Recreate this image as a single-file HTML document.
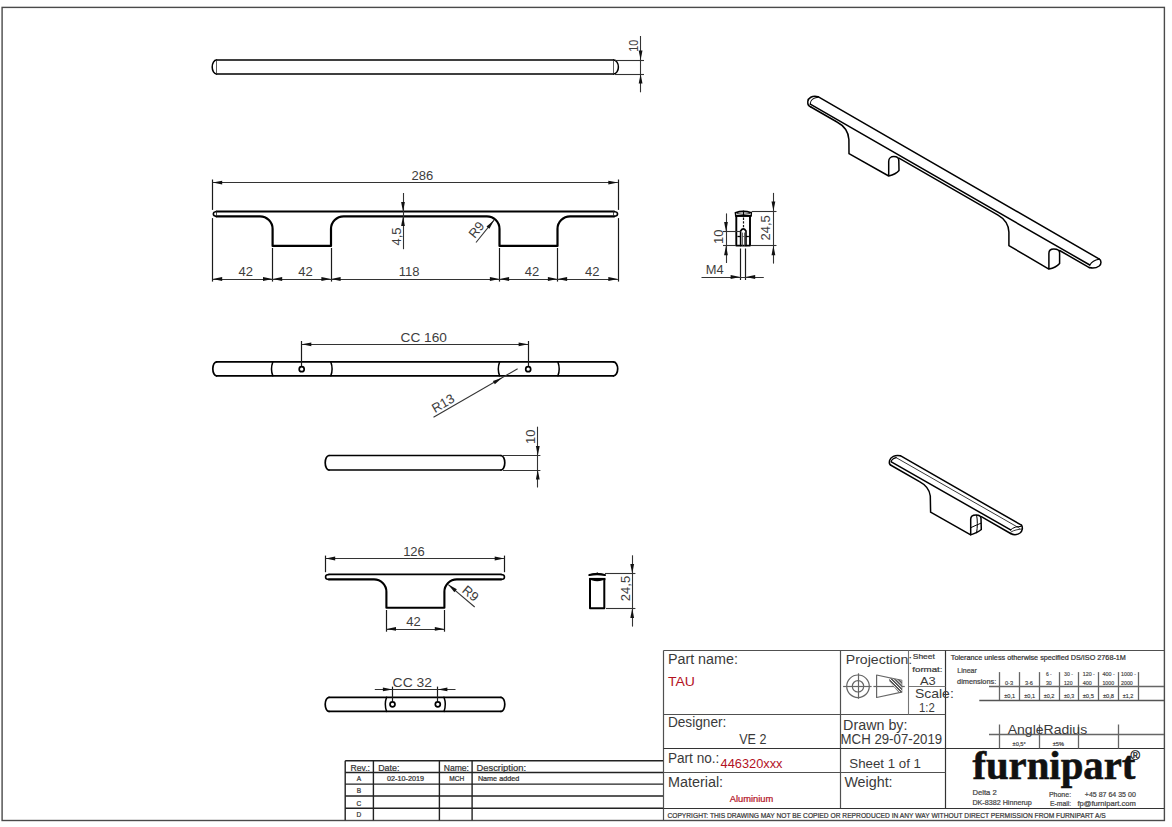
<!DOCTYPE html>
<html><head><meta charset="utf-8"><title>TAU drawing</title>
<style>
html,body{margin:0;padding:0;background:#fff;width:1172px;height:827px;overflow:hidden;}
svg{display:block;}

</style></head>
<body>
<svg width="1172" height="827" viewBox="0 0 1172 827">
<rect width="1172" height="827" fill="#fff"/>
<rect x="2.1" y="7.4" width="1162.3" height="813.1" fill="none" stroke="#4a4a4a" stroke-width="1.4"/>
<path d="M216.5,60 L613.6,60 M216.5,74 L613.6,74" stroke="#000" stroke-width="1.6" fill="none" stroke-linejoin="round" stroke-linecap="round" />
<path d="M216.5,60 A4.3,7 0 0 0 216.5,74" stroke="#000" stroke-width="1.5" fill="none" stroke-linejoin="round" stroke-linecap="round" />
<path d="M613.6,60 A4.8,7 0 0 1 613.6,74" stroke="#000" stroke-width="1.5" fill="none" stroke-linejoin="round" stroke-linecap="round" />
<line x1="216.5" y1="60" x2="216.5" y2="74" stroke="#333" stroke-width="0.8" />
<line x1="613.5" y1="60" x2="613.5" y2="74" stroke="#333" stroke-width="0.8" />
<line x1="615" y1="60.5" x2="644" y2="60.5" stroke="#333" stroke-width="1.1" />
<line x1="615" y1="74.5" x2="644" y2="74.5" stroke="#333" stroke-width="1.1" />
<line x1="640.5" y1="36" x2="640.5" y2="92.3" stroke="#333" stroke-width="1.1" />
<path d="M640.60,60.00 L638.70,50.40 L642.50,50.40 Z" fill="#111"/>
<path d="M640.60,74.00 L642.50,83.60 L638.70,83.60 Z" fill="#111"/>
<text transform="translate(638,45.8) rotate(-90)" font-family="Liberation Sans" font-size="13" font-weight="normal" fill="#3d3d3d" text-anchor="middle" textLength="12" lengthAdjust="spacingAndGlyphs" >10</text>
<line x1="212.5" y1="179.5" x2="212.5" y2="209.9" stroke="#1a1a1a" stroke-width="1.2" />
<line x1="212.5" y1="218.1" x2="212.5" y2="281.6" stroke="#1a1a1a" stroke-width="1.2" />
<line x1="618.5" y1="179.5" x2="618.5" y2="209.9" stroke="#1a1a1a" stroke-width="1.2" />
<line x1="618.5" y1="218.1" x2="618.5" y2="281.6" stroke="#1a1a1a" stroke-width="1.2" />
<line x1="212.6" y1="182.5" x2="617.9" y2="182.5" stroke="#333" stroke-width="1.1" />
<path d="M212.60,182.60 L222.20,180.70 L222.20,184.50 Z" fill="#111"/>
<path d="M617.90,182.60 L608.30,184.50 L608.30,180.70 Z" fill="#111"/>
<text x="422.3" y="180.3" font-family="Liberation Sans" font-size="13" font-weight="normal" fill="#3d3d3d" text-anchor="middle" >286</text>
<path d="M216.5,211.5 L614,211.5" stroke="#000" stroke-width="1.8" fill="none" stroke-linejoin="round" stroke-linecap="round" />
<path d="M216.5,211.5 A4,2.5 0 0 0 216.5,216.4" stroke="#000" stroke-width="1.5" fill="none" stroke-linejoin="round" stroke-linecap="round" />
<path d="M614,211.5 A4.5,2.5 0 0 1 614,216.4" stroke="#000" stroke-width="1.5" fill="none" stroke-linejoin="round" stroke-linecap="round" />
<path d="M216.5,216.4 L260,216.4 A12.6,12.6 0 0 1 272.6,229 L272.6,245.9 L331,245.9 L331,229 A12.6,12.6 0 0 1 343.6,216.4 L486.9,216.4 A12.6,12.6 0 0 1 499.5,229 L499.5,245.9 L557.5,245.9 L557.5,229 A12.6,12.6 0 0 1 570.1,216.4 L614,216.4" stroke="#000" stroke-width="2.2" fill="none" stroke-linejoin="round" stroke-linecap="round" />
<line x1="216.5" y1="211" x2="216.5" y2="215.5" stroke="#222" stroke-width="0.8" />
<line x1="613.5" y1="211" x2="613.5" y2="215.5" stroke="#222" stroke-width="0.8" />
<line x1="272.5" y1="248" x2="272.5" y2="281.6" stroke="#1a1a1a" stroke-width="1.2" />
<line x1="331.5" y1="248" x2="331.5" y2="281.6" stroke="#1a1a1a" stroke-width="1.2" />
<line x1="499.5" y1="248" x2="499.5" y2="281.6" stroke="#1a1a1a" stroke-width="1.2" />
<line x1="557.5" y1="248" x2="557.5" y2="281.6" stroke="#1a1a1a" stroke-width="1.2" />
<line x1="212.6" y1="279.5" x2="617.9" y2="279.5" stroke="#333" stroke-width="1.1" />
<path d="M212.60,279.00 L222.20,277.10 L222.20,280.90 Z" fill="#111"/>
<path d="M272.60,279.00 L263.00,280.90 L263.00,277.10 Z" fill="#111"/>
<path d="M272.60,279.00 L282.20,277.10 L282.20,280.90 Z" fill="#111"/>
<path d="M331.00,279.00 L321.40,280.90 L321.40,277.10 Z" fill="#111"/>
<path d="M331.00,279.00 L340.60,277.10 L340.60,280.90 Z" fill="#111"/>
<path d="M499.50,279.00 L489.90,280.90 L489.90,277.10 Z" fill="#111"/>
<path d="M499.50,279.00 L509.10,277.10 L509.10,280.90 Z" fill="#111"/>
<path d="M557.50,279.00 L547.90,280.90 L547.90,277.10 Z" fill="#111"/>
<path d="M557.50,279.00 L567.10,277.10 L567.10,280.90 Z" fill="#111"/>
<path d="M617.90,279.00 L608.30,280.90 L608.30,277.10 Z" fill="#111"/>
<text x="245.8" y="275.6" font-family="Liberation Sans" font-size="13" font-weight="normal" fill="#3d3d3d" text-anchor="middle" >42</text>
<text x="305.6" y="275.6" font-family="Liberation Sans" font-size="13" font-weight="normal" fill="#3d3d3d" text-anchor="middle" >42</text>
<text x="409.2" y="275.6" font-family="Liberation Sans" font-size="13" font-weight="normal" fill="#3d3d3d" text-anchor="middle" >118</text>
<text x="532" y="275.6" font-family="Liberation Sans" font-size="13" font-weight="normal" fill="#3d3d3d" text-anchor="middle" >42</text>
<text x="592.2" y="275.6" font-family="Liberation Sans" font-size="13" font-weight="normal" fill="#3d3d3d" text-anchor="middle" >42</text>
<line x1="403.5" y1="193" x2="403.5" y2="249.2" stroke="#333" stroke-width="1.1" />
<path d="M403.00,211.50 L401.10,201.90 L404.90,201.90 Z" fill="#111"/>
<path d="M403.00,216.40 L404.90,226.00 L401.10,226.00 Z" fill="#111"/>
<text transform="translate(401,236.5) rotate(-90)" font-family="Liberation Sans" font-size="13" font-weight="normal" fill="#3d3d3d" text-anchor="middle" >4,5</text>
<line x1="476" y1="242.5" x2="494" y2="220.2" stroke="#333" stroke-width="1.1" />
<path d="M494.00,220.20 L489.45,228.86 L486.49,226.48 Z" fill="#111"/>
<text transform="translate(479.9,232.5) rotate(-51)" font-family="Liberation Sans" font-size="13" font-weight="normal" fill="#3d3d3d" text-anchor="middle" >R9</text>
<path d="M216.5,361.9 L613.5,361.9 M216.5,375.8 L613.5,375.8" stroke="#000" stroke-width="1.7" fill="none" stroke-linejoin="round" stroke-linecap="round" />
<path d="M216.5,361.9 A3.7,6.95 0 0 0 216.5,375.8" stroke="#000" stroke-width="1.7" fill="none" stroke-linejoin="round" stroke-linecap="round" />
<path d="M613.5,361.9 A4.2,6.95 0 0 1 613.5,375.8" stroke="#000" stroke-width="1.7" fill="none" stroke-linejoin="round" stroke-linecap="round" />
<path d="M272.8,361.9 Q270.2,368.85 272.8,375.8" stroke="#000" stroke-width="1.5" fill="none" stroke-linejoin="round" stroke-linecap="round" />
<path d="M330.8,361.9 Q333.40000000000003,368.85 330.8,375.8" stroke="#000" stroke-width="1.5" fill="none" stroke-linejoin="round" stroke-linecap="round" />
<path d="M499.6,361.9 Q497.0,368.85 499.6,375.8" stroke="#000" stroke-width="1.5" fill="none" stroke-linejoin="round" stroke-linecap="round" />
<path d="M557.9,361.9 Q560.5,368.85 557.9,375.8" stroke="#000" stroke-width="1.5" fill="none" stroke-linejoin="round" stroke-linecap="round" />
<circle cx="301.7" cy="369.2" r="2.5" fill="none" stroke="#000" stroke-width="1.7"/>
<line x1="301.5" y1="341" x2="301.5" y2="366" stroke="#1a1a1a" stroke-width="1.2" />
<circle cx="528.2" cy="369.2" r="2.5" fill="none" stroke="#000" stroke-width="1.7"/>
<line x1="528.5" y1="341" x2="528.5" y2="366" stroke="#1a1a1a" stroke-width="1.2" />
<line x1="301.7" y1="344.5" x2="528.2" y2="344.5" stroke="#333" stroke-width="1.1" />
<path d="M301.70,344.30 L311.30,342.40 L311.30,346.20 Z" fill="#111"/>
<path d="M528.20,344.30 L518.60,346.20 L518.60,342.40 Z" fill="#111"/>
<text x="400.6" y="341.9" font-family="Liberation Sans" font-size="13" font-weight="normal" fill="#3d3d3d" text-anchor="start" textLength="46.3" lengthAdjust="spacingAndGlyphs" >CC 160</text>
<line x1="433.5" y1="417.2" x2="517.6" y2="368.8" stroke="#333" stroke-width="1.1" />
<path d="M502.20,377.80 L494.83,384.24 L492.93,380.94 Z" fill="#111"/>
<text transform="translate(445.3,407.2) rotate(-29.9)" font-family="Liberation Sans" font-size="13" font-weight="normal" fill="#3d3d3d" text-anchor="middle" >R13</text>
<path d="M329,455.5 L501,455.5 M329,470 L501,470" stroke="#000" stroke-width="1.7" fill="none" stroke-linejoin="round" stroke-linecap="round" />
<path d="M329,455.5 A3.8,7.25 0 0 0 329,470" stroke="#000" stroke-width="1.7" fill="none" stroke-linejoin="round" stroke-linecap="round" />
<path d="M501,455.5 A3.8,7.25 0 0 1 501,470" stroke="#000" stroke-width="1.7" fill="none" stroke-linejoin="round" stroke-linecap="round" />
<line x1="503" y1="455.5" x2="540.4" y2="455.5" stroke="#333" stroke-width="1.1" />
<line x1="503" y1="470.5" x2="540.4" y2="470.5" stroke="#333" stroke-width="1.1" />
<line x1="537.5" y1="426.7" x2="537.5" y2="487.5" stroke="#333" stroke-width="1.1" />
<path d="M537.80,455.50 L535.90,445.90 L539.70,445.90 Z" fill="#111"/>
<path d="M537.80,470.00 L539.70,479.60 L535.90,479.60 Z" fill="#111"/>
<text transform="translate(535,436.8) rotate(-90)" font-family="Liberation Sans" font-size="13" font-weight="normal" fill="#3d3d3d" text-anchor="middle" >10</text>
<line x1="325.5" y1="555.6" x2="325.5" y2="572.2" stroke="#1a1a1a" stroke-width="1.2" />
<line x1="504.5" y1="555.6" x2="504.5" y2="572.2" stroke="#1a1a1a" stroke-width="1.2" />
<line x1="325.6" y1="558.5" x2="504.3" y2="558.5" stroke="#333" stroke-width="1.1" />
<path d="M325.60,558.50 L335.20,556.60 L335.20,560.40 Z" fill="#111"/>
<path d="M504.30,558.50 L494.70,560.40 L494.70,556.60 Z" fill="#111"/>
<text x="414" y="555.6" font-family="Liberation Sans" font-size="13" font-weight="normal" fill="#3d3d3d" text-anchor="middle" >126</text>
<path d="M329,574.4 L501,574.4" stroke="#000" stroke-width="1.8" fill="none" stroke-linejoin="round" stroke-linecap="round" />
<path d="M329,574.4 A3.5,2.5 0 0 0 329,579.4" stroke="#000" stroke-width="1.5" fill="none" stroke-linejoin="round" stroke-linecap="round" />
<path d="M501,574.4 A3.5,2.5 0 0 1 501,579.4" stroke="#000" stroke-width="1.5" fill="none" stroke-linejoin="round" stroke-linecap="round" />
<path d="M329,579.4 L374,579.4 A12.4,12.4 0 0 1 386.4,591.8 L386.4,607.8 L444.4,607.8 L444.4,591.8 A12.4,12.4 0 0 1 456.8,579.4 L501,579.4" stroke="#000" stroke-width="2.1" fill="none" stroke-linejoin="round" stroke-linecap="round" />
<line x1="386.5" y1="610" x2="386.5" y2="631.7" stroke="#1a1a1a" stroke-width="1.2" />
<line x1="444.5" y1="610" x2="444.5" y2="631.7" stroke="#1a1a1a" stroke-width="1.2" />
<line x1="386.4" y1="629.5" x2="444.4" y2="629.5" stroke="#333" stroke-width="1.1" />
<path d="M386.40,628.90 L396.00,627.00 L396.00,630.80 Z" fill="#111"/>
<path d="M444.40,628.90 L434.80,630.80 L434.80,627.00 Z" fill="#111"/>
<text x="413.5" y="625.7" font-family="Liberation Sans" font-size="13" font-weight="normal" fill="#3d3d3d" text-anchor="middle" >42</text>
<line x1="474.7" y1="607" x2="448.3" y2="584.6" stroke="#333" stroke-width="1.1" />
<path d="M448.30,584.60 L456.85,589.36 L454.39,592.26 Z" fill="#111"/>
<text transform="translate(467.6,596.9) rotate(40.3)" font-family="Liberation Sans" font-size="13" font-weight="normal" fill="#3d3d3d" text-anchor="middle" >R9</text>
<path d="M329,697.3 L501,697.3 M329,711.4 L501,711.4" stroke="#000" stroke-width="1.7" fill="none" stroke-linejoin="round" stroke-linecap="round" />
<path d="M329,697.3 A3.8,7.05 0 0 0 329,711.4" stroke="#000" stroke-width="1.7" fill="none" stroke-linejoin="round" stroke-linecap="round" />
<path d="M501,697.3 A3.8,7.05 0 0 1 501,711.4" stroke="#000" stroke-width="1.7" fill="none" stroke-linejoin="round" stroke-linecap="round" />
<path d="M386.6,697.3 Q384,704.3499999999999 386.6,711.4" stroke="#000" stroke-width="1.5" fill="none" stroke-linejoin="round" stroke-linecap="round" />
<path d="M444,697.3 Q446.6,704.3499999999999 444,711.4" stroke="#000" stroke-width="1.5" fill="none" stroke-linejoin="round" stroke-linecap="round" />
<circle cx="392.5" cy="704.3" r="2.5" fill="none" stroke="#000" stroke-width="1.7"/>
<line x1="392.5" y1="686.6" x2="392.5" y2="701" stroke="#1a1a1a" stroke-width="1.2" />
<circle cx="437.8" cy="704.3" r="2.5" fill="none" stroke="#000" stroke-width="1.7"/>
<line x1="437.5" y1="686.6" x2="437.5" y2="701" stroke="#1a1a1a" stroke-width="1.2" />
<line x1="374.8" y1="689.5" x2="455.5" y2="689.5" stroke="#333" stroke-width="1.1" />
<path d="M392.50,689.40 L382.90,691.30 L382.90,687.50 Z" fill="#111"/>
<path d="M437.80,689.40 L447.40,687.50 L447.40,691.30 Z" fill="#111"/>
<text x="392.6" y="686.6" font-family="Liberation Sans" font-size="13" font-weight="normal" fill="#3d3d3d" text-anchor="start" textLength="39.4" lengthAdjust="spacingAndGlyphs" >CC 32</text>
<path d="M736.3,216 L736.3,245.6 L750,245.6 L750,216" stroke="#000" stroke-width="1.9" fill="none" stroke-linejoin="round" stroke-linecap="round" />
<path d="M735.4,212.8 Q743,210.0 751.4,212.8" stroke="#000" stroke-width="1.6" fill="none" stroke-linejoin="round" stroke-linecap="round" />
<path d="M735.4,212.8 L735.6,215.6 M751.4,212.8 L751.2,215.6" stroke="#000" stroke-width="1.3" fill="none" stroke-linejoin="round" stroke-linecap="round" />
<line x1="735.2" y1="215.9" x2="751.6" y2="215.9" stroke="#000" stroke-width="2.1" />
<path d="M737.2,213.6 Q743.3,215.2 749.6,213.6" stroke="#000" stroke-width="0.8" fill="none" stroke-linejoin="round" stroke-linecap="round" />
<line x1="743.5" y1="210.6" x2="743.5" y2="216" stroke="#000" stroke-width="1.2" />
<line x1="743.5" y1="217.5" x2="743.5" y2="228" stroke="#111" stroke-width="1.2" stroke-dasharray="2.4,1.3"/>
<path d="M740.6,245.6 L740.6,231 Q743.3,226.8 746,231 L746,245.6" stroke="#000" stroke-width="1.6" fill="none" stroke-linejoin="round" stroke-linecap="round" />
<line x1="742.5" y1="232.6" x2="742.5" y2="245.6" stroke="#555" stroke-width="0.9" />
<line x1="744.5" y1="232.6" x2="744.5" y2="245.6" stroke="#555" stroke-width="0.9" />
<line x1="737.4" y1="236.5" x2="740.6" y2="236.5" stroke="#000" stroke-width="1.3" />
<line x1="746" y1="236.5" x2="748.9" y2="236.5" stroke="#000" stroke-width="1.3" />
<line x1="742" y1="236.5" x2="744.6" y2="236.5" stroke="#555" stroke-width="0.8" />
<line x1="751.6" y1="211.5" x2="776.5" y2="211.5" stroke="#333" stroke-width="1.1" />
<line x1="751" y1="245.5" x2="776.5" y2="245.5" stroke="#333" stroke-width="1.1" />
<line x1="773.5" y1="192.9" x2="773.5" y2="263.6" stroke="#333" stroke-width="1.1" />
<path d="M773.40,211.00 L771.50,201.40 L775.30,201.40 Z" fill="#111"/>
<path d="M773.40,245.60 L775.30,255.20 L771.50,255.20 Z" fill="#111"/>
<text transform="translate(770.4,227.9) rotate(-90)" font-family="Liberation Sans" font-size="13" font-weight="normal" fill="#3d3d3d" text-anchor="middle" >24,5</text>
<line x1="723" y1="231.5" x2="740.6" y2="231.5" stroke="#333" stroke-width="1.1" />
<line x1="723" y1="245.5" x2="736" y2="245.5" stroke="#333" stroke-width="1.1" />
<line x1="726.5" y1="213.4" x2="726.5" y2="263" stroke="#333" stroke-width="1.1" />
<path d="M726.00,231.50 L724.10,221.90 L727.90,221.90 Z" fill="#111"/>
<path d="M726.00,245.60 L727.90,255.20 L724.10,255.20 Z" fill="#111"/>
<text transform="translate(722.6,236.7) rotate(-90)" font-family="Liberation Sans" font-size="13" font-weight="normal" fill="#3d3d3d" text-anchor="middle" >10</text>
<line x1="740.5" y1="248.5" x2="740.5" y2="280" stroke="#1a1a1a" stroke-width="1.2" />
<line x1="745.5" y1="248.5" x2="745.5" y2="280" stroke="#1a1a1a" stroke-width="1.2" />
<line x1="701.5" y1="277.5" x2="763.8" y2="277.5" stroke="#333" stroke-width="1.1" />
<path d="M740.20,277.00 L730.60,278.90 L730.60,275.10 Z" fill="#111"/>
<path d="M745.60,277.00 L755.20,275.10 L755.20,278.90 Z" fill="#111"/>
<text x="705.8" y="273.9" font-family="Liberation Sans" font-size="12" font-weight="normal" fill="#3d3d3d" text-anchor="start" textLength="17.9" lengthAdjust="spacingAndGlyphs" >M4</text>
<path d="M590,579 L590,608.2 L604.3,608.2 L604.3,579" stroke="#000" stroke-width="2" fill="none" stroke-linejoin="round" stroke-linecap="round" />
<path d="M589.4,575 Q597,573.4 604.9,575" stroke="#000" stroke-width="2.2" fill="none" stroke-linejoin="round" stroke-linecap="round" />
<path d="M591,574.3 Q597,571.9 603,574.3" stroke="#000" stroke-width="1.0" fill="none" stroke-linejoin="round" stroke-linecap="round" />
<line x1="589.2" y1="579" x2="605.4" y2="579" stroke="#000" stroke-width="2.2" />
<path d="M592,579.6 Q597.2,581.4 602.4,579.6" stroke="#000" stroke-width="1.3" fill="none" stroke-linejoin="round" stroke-linecap="round" />
<line x1="597.5" y1="572.6" x2="597.5" y2="575" stroke="#000" stroke-width="1" />
<line x1="605" y1="573.5" x2="635.4" y2="573.5" stroke="#333" stroke-width="1.1" />
<line x1="606" y1="608.5" x2="635.4" y2="608.5" stroke="#333" stroke-width="1.1" />
<line x1="632.5" y1="555.3" x2="632.5" y2="626.6" stroke="#333" stroke-width="1.1" />
<path d="M632.20,573.60 L630.30,564.00 L634.10,564.00 Z" fill="#111"/>
<path d="M632.20,608.40 L634.10,618.00 L630.30,618.00 Z" fill="#111"/>
<text transform="translate(629.6,588.5) rotate(-90)" font-family="Liberation Sans" font-size="13" font-weight="normal" fill="#3d3d3d" text-anchor="middle" >24,5</text>
<path d="M818,96.7 L1099,258.9" stroke="#000" stroke-width="1.5" fill="none" stroke-linejoin="round" stroke-linecap="round" />
<path d="M810.3,104.1 L1089.8,265" stroke="#000" stroke-width="1.5" fill="none" stroke-linejoin="round" stroke-linecap="round" />
<path d="M818,96.7 C812,95.3 808.2,98 807.8,101.5 C807.5,104.3 808.8,106.2 810.9,107" stroke="#000" stroke-width="1.5" fill="none" stroke-linejoin="round" stroke-linecap="round" />
<path d="M818,97.2 C813.5,97.6 810.2,100.3 810.3,104.1" stroke="#000" stroke-width="1.1" fill="none" stroke-linejoin="round" stroke-linecap="round" />
<path d="M810.9,107 L837,122 C843,125.2 848.4,131 848.9,139.5 L849,153.7 L888.7,176 L888.7,161.5 C888.7,158.3 891.2,156.6 893.8,156.6 C896.6,156.6 898.8,158 898.8,160.5 L899,170.5 C897,173 893,175 888.7,176" stroke="#000" stroke-width="1.5" fill="none" stroke-linejoin="round" stroke-linecap="round" />
<path d="M899,158.2 L998,215.2 C1004,218.6 1008.5,224 1008.9,232 L1008.9,245.6 L1048.9,269.1 L1048.9,253.2 C1048.9,250.5 1051,248.9 1053.8,248.9 C1057,248.9 1059.6,250.2 1059.6,252.7 L1059.6,263.5 C1057,266.5 1053,268.3 1048.9,269.1" stroke="#000" stroke-width="1.5" fill="none" stroke-linejoin="round" stroke-linecap="round" />
<path d="M1059.6,250.5 L1089.3,267.6" stroke="#000" stroke-width="1.5" fill="none" stroke-linejoin="round" stroke-linecap="round" />
<path d="M1099,258.9 C1101.6,260.2 1101.6,264 1099.2,266 C1096.2,268.2 1092,268.3 1089.3,267.6" stroke="#000" stroke-width="1.5" fill="none" stroke-linejoin="round" stroke-linecap="round" />
<path d="M1089.8,265 C1091.6,262 1095,260 1099,259.3" stroke="#000" stroke-width="1.1" fill="none" stroke-linejoin="round" stroke-linecap="round" />
<path d="M900.3,455.7 L1021.5,525.2" stroke="#000" stroke-width="1.5" fill="none" stroke-linejoin="round" stroke-linecap="round" />
<path d="M896.1,457.6 L1019.5,528.2" stroke="#222" stroke-width="0.9" fill="none" stroke-linejoin="round" stroke-linecap="round" />
<path d="M891.3,461.8 L1010.6,529.9" stroke="#000" stroke-width="1.5" fill="none" stroke-linejoin="round" stroke-linecap="round" />
<path d="M900.3,455.7 C895,454.5 890.5,457 889.6,460.5 C889,463 889.4,464.4 890.5,465" stroke="#000" stroke-width="1.5" fill="none" stroke-linejoin="round" stroke-linecap="round" />
<path d="M896.1,457.6 C893,458.5 891.3,460 891.3,461.8" stroke="#000" stroke-width="1.1" fill="none" stroke-linejoin="round" stroke-linecap="round" />
<path d="M890.5,465 L919.5,481.6 C925,484.5 929.6,489.5 930.3,496 L930.6,512.2 L970.7,534.9 L970.7,519.2 C970.7,516.5 973,515 976,515 C979,515 981,516.5 981,518.5 L981.3,529.5 C979,531.5 975,533.5 970.7,534.9" stroke="#000" stroke-width="1.5" fill="none" stroke-linejoin="round" stroke-linecap="round" />
<path d="M976.6,515.2 C977.6,520 977.6,527 976.6,532.8" stroke="#000" stroke-width="1.0" fill="none" stroke-linejoin="round" stroke-linecap="round" />
<path d="M970.9,527.6 C974,526 978,524.5 981,523.2" stroke="#000" stroke-width="1.0" fill="none" stroke-linejoin="round" stroke-linecap="round" />
<path d="M981.3,516.7 L1010.6,533.5" stroke="#000" stroke-width="1.5" fill="none" stroke-linejoin="round" stroke-linecap="round" />
<path d="M1021.5,525.2 C1023,527 1022.6,531 1020,533 C1017,535 1013,534.8 1010.6,533.5" stroke="#000" stroke-width="1.5" fill="none" stroke-linejoin="round" stroke-linecap="round" />
<path d="M1010.6,529.9 C1013,527.4 1017,526.3 1021.2,526.4" stroke="#000" stroke-width="1.0" fill="none" stroke-linejoin="round" stroke-linecap="round" />
<path d="M1011,532 C1014,530 1018,529.5 1021.6,529" stroke="#000" stroke-width="0.8" fill="none" stroke-linejoin="round" stroke-linecap="round" />
<line x1="663.5" y1="650.5" x2="1164" y2="650.5" stroke="#505050" stroke-width="1.2" />
<line x1="663.5" y1="650.5" x2="663.5" y2="820" stroke="#505050" stroke-width="1.2" />
<line x1="840.5" y1="650.5" x2="840.5" y2="808.5" stroke="#505050" stroke-width="1.2" />
<line x1="945.5" y1="650.5" x2="945.5" y2="808.5" stroke="#333" stroke-width="1.2" />
<line x1="663.5" y1="714.5" x2="945.5" y2="714.5" stroke="#505050" stroke-width="1.2" />
<line x1="663.5" y1="748.5" x2="1164" y2="748.5" stroke="#333" stroke-width="1.2" />
<line x1="663.5" y1="772.5" x2="945.5" y2="772.5" stroke="#505050" stroke-width="1.2" />
<line x1="663.5" y1="808.5" x2="1164" y2="808.5" stroke="#333" stroke-width="1.2" />
<line x1="908.5" y1="650.5" x2="908.5" y2="714.5" stroke="#777" stroke-width="1.1" />
<line x1="908.5" y1="686.5" x2="945.5" y2="686.5" stroke="#777" stroke-width="1.1" />
<line x1="999.5" y1="672.1" x2="999.5" y2="700.2" stroke="#666" stroke-width="1.3" />
<line x1="1019.5" y1="672.1" x2="1019.5" y2="700.2" stroke="#666" stroke-width="1.3" />
<line x1="1039.5" y1="672.1" x2="1039.5" y2="700.2" stroke="#666" stroke-width="1.3" />
<line x1="1059.5" y1="672.1" x2="1059.5" y2="700.2" stroke="#666" stroke-width="1.3" />
<line x1="1078.5" y1="672.1" x2="1078.5" y2="700.2" stroke="#666" stroke-width="1.3" />
<line x1="1098.5" y1="672.1" x2="1098.5" y2="700.2" stroke="#666" stroke-width="1.3" />
<line x1="1118.5" y1="672.1" x2="1118.5" y2="700.2" stroke="#666" stroke-width="1.3" />
<line x1="1138.5" y1="672.1" x2="1138.5" y2="700.2" stroke="#666" stroke-width="1.3" />
<line x1="989" y1="686.5" x2="1164" y2="686.5" stroke="#666" stroke-width="1.3" />
<line x1="979.3" y1="700.5" x2="1164" y2="700.5" stroke="#555" stroke-width="1.3" />
<line x1="999.5" y1="724.5" x2="999.5" y2="748.5" stroke="#666" stroke-width="1.3" />
<line x1="1039.5" y1="724.5" x2="1039.5" y2="748.5" stroke="#666" stroke-width="1.3" />
<line x1="1078.5" y1="724.5" x2="1078.5" y2="748.5" stroke="#666" stroke-width="1.3" />
<line x1="1118.5" y1="724.5" x2="1118.5" y2="748.5" stroke="#666" stroke-width="1.3" />
<line x1="989" y1="734.5" x2="1164" y2="734.5" stroke="#666" stroke-width="1.3" />
<line x1="345.2" y1="760.7" x2="345.2" y2="820.3" stroke="#222" stroke-width="1.4" />
<line x1="373.4" y1="760.7" x2="373.4" y2="820.3" stroke="#222" stroke-width="1.4" />
<line x1="439.4" y1="760.7" x2="439.4" y2="820.3" stroke="#222" stroke-width="1.4" />
<line x1="472.1" y1="760.7" x2="472.1" y2="820.3" stroke="#222" stroke-width="1.4" />
<line x1="345.2" y1="760.7" x2="663" y2="760.7" stroke="#222" stroke-width="1.4" />
<line x1="345.2" y1="772.5" x2="663" y2="772.5" stroke="#222" stroke-width="1.4" />
<line x1="345.2" y1="784.1" x2="663" y2="784.1" stroke="#222" stroke-width="1.4" />
<line x1="345.2" y1="796" x2="663" y2="796" stroke="#222" stroke-width="1.4" />
<line x1="345.2" y1="808.2" x2="663" y2="808.2" stroke="#222" stroke-width="1.4" />
<circle cx="858" cy="686.3" r="11.3" fill="none" stroke="#666" stroke-width="1.2"/>
<circle cx="858" cy="686.3" r="5.7" fill="none" stroke="#666" stroke-width="1.2"/>
<line x1="843.1" y1="686.5" x2="871.6" y2="686.5" stroke="#666" stroke-width="1.2" />
<line x1="858.5" y1="673.3" x2="858.5" y2="698.8" stroke="#666" stroke-width="1.2" />
<path d="M876.6,675 L876.6,697.5 L901.7,692.2 L901.7,680.3 Z" stroke="#666" stroke-width="1.2" fill="none" stroke-linejoin="round" stroke-linecap="round" />
<line x1="873.4" y1="686.5" x2="904.8" y2="686.5" stroke="#666" stroke-width="1.2" />
<clipPath id="hc"><path d="M889.3,678.3 L901.7,680.3 L901.7,692.2 L898.2,692 L889.3,681.2 Z"/></clipPath>
<path d="M889.3,678.3 L901.7,680.3 L901.7,692.2 L898.2,692 L889.3,681.2 Z" fill="#5a5a5a"/>
<g clip-path="url(#hc)" stroke="#fff" stroke-width="1"><line x1="875.4" y1="674" x2="893.4" y2="692"/><line x1="878.6" y1="674" x2="896.6" y2="692"/><line x1="881.8" y1="674" x2="899.8" y2="692"/><line x1="885.0" y1="674" x2="903.0" y2="692"/><line x1="888.2" y1="674" x2="906.2" y2="692"/><line x1="891.4" y1="674" x2="909.4" y2="692"/><line x1="894.6" y1="674" x2="912.6" y2="692"/></g>
<text x="667.9" y="664.3" font-family="Liberation Sans" font-size="14" font-weight="normal" fill="#3a3a3a" text-anchor="start" textLength="70" lengthAdjust="spacingAndGlyphs" >Part name:</text>
<text x="667.9" y="685.8" font-family="Liberation Sans" font-size="13.5" font-weight="normal" fill="#b3121f" text-anchor="start" textLength="27" lengthAdjust="spacingAndGlyphs" >TAU</text>
<text x="845.8" y="663.9" font-family="Liberation Sans" font-size="13.5" font-weight="normal" fill="#3a3a3a" text-anchor="start" textLength="66.5" lengthAdjust="spacingAndGlyphs" >Projection:</text>
<text x="912.8" y="658.8" font-family="Liberation Sans" font-size="7.2" font-weight="normal" fill="#3a3a3a" text-anchor="start" textLength="22" lengthAdjust="spacingAndGlyphs"  stroke="#3a3a3a" stroke-width="0.22">Sheet</text>
<text x="912.3" y="671.8" font-family="Liberation Sans" font-size="7.8" font-weight="normal" fill="#3a3a3a" text-anchor="start" textLength="30.2" lengthAdjust="spacingAndGlyphs"  stroke="#3a3a3a" stroke-width="0.22">format:</text>
<text x="920" y="685.4" font-family="Liberation Sans" font-size="11.8" font-weight="normal" fill="#3a3a3a" text-anchor="start" textLength="15.8" lengthAdjust="spacingAndGlyphs" >A3</text>
<text x="914.9" y="697.7" font-family="Liberation Sans" font-size="13.4" font-weight="normal" fill="#3a3a3a" text-anchor="start" textLength="38.9" lengthAdjust="spacingAndGlyphs" >Scale:</text>
<text x="919" y="711.5" font-family="Liberation Sans" font-size="12.6" font-weight="normal" fill="#3a3a3a" text-anchor="start" textLength="15.8" lengthAdjust="spacingAndGlyphs" >1:2</text>
<text x="667.9" y="726.7" font-family="Liberation Sans" font-size="14" font-weight="normal" fill="#3a3a3a" text-anchor="start" textLength="58.5" lengthAdjust="spacingAndGlyphs" >Designer:</text>
<text x="739.2" y="744" font-family="Liberation Sans" font-size="14" font-weight="normal" fill="#3a3a3a" text-anchor="start" textLength="27.2" lengthAdjust="spacingAndGlyphs" >VE 2</text>
<text x="843.1" y="730.4" font-family="Liberation Sans" font-size="14" font-weight="normal" fill="#3a3a3a" text-anchor="start" textLength="64.4" lengthAdjust="spacingAndGlyphs" >Drawn by:</text>
<text x="840.6" y="744" font-family="Liberation Sans" font-size="13.8" font-weight="normal" fill="#3a3a3a" text-anchor="start" textLength="101.5" lengthAdjust="spacingAndGlyphs" >MCH 29-07-2019</text>
<text x="667.9" y="762.8" font-family="Liberation Sans" font-size="14" font-weight="normal" fill="#3a3a3a" text-anchor="start" textLength="51.5" lengthAdjust="spacingAndGlyphs" >Part no.:</text>
<text x="720.6" y="767.7" font-family="Liberation Sans" font-size="12.6" font-weight="normal" fill="#b3121f" text-anchor="start" textLength="61.9" lengthAdjust="spacingAndGlyphs" >446320xxx</text>
<text x="849.3" y="767.7" font-family="Liberation Sans" font-size="13.4" font-weight="normal" fill="#3a3a3a" text-anchor="start" textLength="71.7" lengthAdjust="spacingAndGlyphs" >Sheet 1 of 1</text>
<text x="667.9" y="786.5" font-family="Liberation Sans" font-size="13.8" font-weight="normal" fill="#3a3a3a" text-anchor="start" textLength="55.2" lengthAdjust="spacingAndGlyphs" >Material:</text>
<text x="844.4" y="786.5" font-family="Liberation Sans" font-size="13.8" font-weight="normal" fill="#3a3a3a" text-anchor="start" textLength="48.2" lengthAdjust="spacingAndGlyphs" >Weight:</text>
<text x="729.8" y="801.9" font-family="Liberation Sans" font-size="9.2" font-weight="normal" fill="#b3121f" text-anchor="start" textLength="43.5" lengthAdjust="spacingAndGlyphs"  stroke="#b3121f" stroke-width="0.22">Aluminium</text>
<text x="667.4" y="818" font-family="Liberation Sans" font-size="7.6" font-weight="normal" fill="#333" text-anchor="start" textLength="438.4" lengthAdjust="spacingAndGlyphs"  stroke="#333" stroke-width="0.22">COPYRIGHT: THIS DRAWING MAY NOT BE COPIED OR REPRODUCED IN ANY WAY WITHOUT DIRECT PERMISSION FROM FURNIPART A/S</text>
<text x="950.8" y="659.8" font-family="Liberation Sans" font-size="7.2" font-weight="normal" fill="#333" text-anchor="start" textLength="175.1" lengthAdjust="spacingAndGlyphs"  stroke="#333" stroke-width="0.22">Tolerance unless otherwise specified DS/ISO 2768-1M</text>
<text x="957.3" y="672.9" font-family="Liberation Sans" font-size="7.2" font-weight="normal" fill="#444" text-anchor="start" textLength="19.6" lengthAdjust="spacingAndGlyphs"  stroke="#444" stroke-width="0.22">Linear</text>
<text x="957.1" y="683.8" font-family="Liberation Sans" font-size="6.6" font-weight="normal" fill="#444" text-anchor="start" textLength="39.1" lengthAdjust="spacingAndGlyphs"  stroke="#444" stroke-width="0.22">dimensions:</text>
<text x="1004.9" y="684.9" font-family="Liberation Sans" font-size="5.2" font-weight="normal" fill="#444" text-anchor="start" textLength="8.2" lengthAdjust="spacingAndGlyphs"  stroke="#444" stroke-width="0.15">0-3</text>
<text x="1004.2" y="698.2" font-family="Liberation Sans" font-size="5.8" font-weight="normal" fill="#333" text-anchor="start" textLength="10.9" lengthAdjust="spacingAndGlyphs"  stroke="#333" stroke-width="0.15">±0,1</text>
<text x="1024.9" y="684.9" font-family="Liberation Sans" font-size="5.2" font-weight="normal" fill="#444" text-anchor="start" textLength="8.1" lengthAdjust="spacingAndGlyphs"  stroke="#444" stroke-width="0.15">3-6</text>
<text x="1024.3" y="698.2" font-family="Liberation Sans" font-size="5.8" font-weight="normal" fill="#333" text-anchor="start" textLength="10.8" lengthAdjust="spacingAndGlyphs"  stroke="#333" stroke-width="0.15">±0,1</text>
<text x="1045.9" y="676.0" font-family="Liberation Sans" font-size="5.0" font-weight="normal" fill="#444" text-anchor="start" textLength="5.8" lengthAdjust="spacingAndGlyphs"  stroke="#444" stroke-width="0.15">6 -</text>
<text x="1045.9" y="684.9" font-family="Liberation Sans" font-size="5.2" font-weight="normal" fill="#444" text-anchor="start" textLength="5.8" lengthAdjust="spacingAndGlyphs"  stroke="#444" stroke-width="0.15">30</text>
<text x="1043.7" y="698.2" font-family="Liberation Sans" font-size="5.8" font-weight="normal" fill="#333" text-anchor="start" textLength="10.7" lengthAdjust="spacingAndGlyphs"  stroke="#333" stroke-width="0.15">±0,2</text>
<text x="1064" y="676.0" font-family="Liberation Sans" font-size="5.0" font-weight="normal" fill="#444" text-anchor="start" textLength="9" lengthAdjust="spacingAndGlyphs"  stroke="#444" stroke-width="0.15">30 -</text>
<text x="1064" y="684.9" font-family="Liberation Sans" font-size="5.2" font-weight="normal" fill="#444" text-anchor="start" textLength="8.5" lengthAdjust="spacingAndGlyphs"  stroke="#444" stroke-width="0.15">120</text>
<text x="1064" y="698.2" font-family="Liberation Sans" font-size="5.8" font-weight="normal" fill="#333" text-anchor="start" textLength="10.1" lengthAdjust="spacingAndGlyphs"  stroke="#333" stroke-width="0.15">±0,3</text>
<text x="1082.7" y="676.0" font-family="Liberation Sans" font-size="5.0" font-weight="normal" fill="#444" text-anchor="start" textLength="12.2" lengthAdjust="spacingAndGlyphs"  stroke="#444" stroke-width="0.15">120 -</text>
<text x="1082.7" y="684.9" font-family="Liberation Sans" font-size="5.2" font-weight="normal" fill="#444" text-anchor="start" textLength="9.0" lengthAdjust="spacingAndGlyphs"  stroke="#444" stroke-width="0.15">400</text>
<text x="1082.7" y="698.2" font-family="Liberation Sans" font-size="5.8" font-weight="normal" fill="#333" text-anchor="start" textLength="11.2" lengthAdjust="spacingAndGlyphs"  stroke="#333" stroke-width="0.15">±0,5</text>
<text x="1102.4" y="676.0" font-family="Liberation Sans" font-size="5.0" font-weight="normal" fill="#444" text-anchor="start" textLength="12.3" lengthAdjust="spacingAndGlyphs"  stroke="#444" stroke-width="0.15">400 -</text>
<text x="1102.4" y="684.9" font-family="Liberation Sans" font-size="5.2" font-weight="normal" fill="#444" text-anchor="start" textLength="11.7" lengthAdjust="spacingAndGlyphs"  stroke="#444" stroke-width="0.15">1000</text>
<text x="1102.9" y="698.2" font-family="Liberation Sans" font-size="5.8" font-weight="normal" fill="#333" text-anchor="start" textLength="11.2" lengthAdjust="spacingAndGlyphs"  stroke="#333" stroke-width="0.15">±0,8</text>
<text x="1121" y="676.0" font-family="Liberation Sans" font-size="5.0" font-weight="normal" fill="#444" text-anchor="start" textLength="15" lengthAdjust="spacingAndGlyphs"  stroke="#444" stroke-width="0.15">1000 -</text>
<text x="1121" y="684.9" font-family="Liberation Sans" font-size="5.2" font-weight="normal" fill="#444" text-anchor="start" textLength="11.8" lengthAdjust="spacingAndGlyphs"  stroke="#444" stroke-width="0.15">2000</text>
<text x="1122.7" y="698.2" font-family="Liberation Sans" font-size="5.8" font-weight="normal" fill="#333" text-anchor="start" textLength="10.6" lengthAdjust="spacingAndGlyphs"  stroke="#333" stroke-width="0.15">±1,2</text>
<text x="1007.7" y="734.3" font-family="Liberation Sans" font-size="13.4" font-weight="normal" fill="#3a3a3a" text-anchor="start" textLength="79.5" lengthAdjust="spacingAndGlyphs" >AngleRadius</text>
<text x="1012.6" y="746.2" font-family="Liberation Sans" font-size="5.6" font-weight="normal" fill="#444" text-anchor="start"  stroke="#444" stroke-width="0.22">±0,5°</text>
<text x="1052.8" y="746.2" font-family="Liberation Sans" font-size="5.6" font-weight="normal" fill="#444" text-anchor="start"  stroke="#444" stroke-width="0.22">±5%</text>
<text x="972.4" y="779" font-family="Liberation Serif" font-size="40.5" font-weight="bold" fill="#111" text-anchor="start" textLength="162.9" lengthAdjust="spacingAndGlyphs" stroke="#111" stroke-width="0.6">furnipart</text>
<text x="1130.6" y="759.6" font-family="Liberation Sans" font-size="13" font-weight="normal" fill="#111" text-anchor="start" stroke="#111" stroke-width="0.3">®</text>
<text x="972.4" y="795.2" font-family="Liberation Sans" font-size="7.4" font-weight="normal" fill="#444" text-anchor="start" textLength="24.3" lengthAdjust="spacingAndGlyphs"  stroke="#444" stroke-width="0.22">Delta 2</text>
<text x="972.4" y="805.3" font-family="Liberation Sans" font-size="7.4" font-weight="normal" fill="#444" text-anchor="start" textLength="59.4" lengthAdjust="spacingAndGlyphs"  stroke="#444" stroke-width="0.22">DK-8382 Hinnerup</text>
<text x="1048.9" y="796.9" font-family="Liberation Sans" font-size="7.4" font-weight="normal" fill="#444" text-anchor="start" textLength="22.2" lengthAdjust="spacingAndGlyphs"  stroke="#444" stroke-width="0.22">Phone:</text>
<text x="1084.8" y="796.9" font-family="Liberation Sans" font-size="7.4" font-weight="normal" fill="#444" text-anchor="start" textLength="51" lengthAdjust="spacingAndGlyphs"  stroke="#444" stroke-width="0.22">+45 87 64 35 00</text>
<text x="1049.9" y="806.3" font-family="Liberation Sans" font-size="7.4" font-weight="normal" fill="#444" text-anchor="start" textLength="21.2" lengthAdjust="spacingAndGlyphs"  stroke="#444" stroke-width="0.22">E-mail:</text>
<text x="1077.4" y="806.3" font-family="Liberation Sans" font-size="7.4" font-weight="normal" fill="#444" text-anchor="start" textLength="58.4" lengthAdjust="spacingAndGlyphs"  stroke="#444" stroke-width="0.22">fp@furnipart.com</text>
<text x="350.6" y="770.7" font-family="Liberation Sans" font-size="8.6" font-weight="normal" fill="#333" text-anchor="start" textLength="19.4" lengthAdjust="spacingAndGlyphs"  stroke="#333" stroke-width="0.22">Rev.:</text>
<text x="378.2" y="770.7" font-family="Liberation Sans" font-size="8.6" font-weight="normal" fill="#333" text-anchor="start" textLength="21.2" lengthAdjust="spacingAndGlyphs"  stroke="#333" stroke-width="0.22">Date:</text>
<text x="443.8" y="770.7" font-family="Liberation Sans" font-size="8.6" font-weight="normal" fill="#333" text-anchor="start" textLength="25.2" lengthAdjust="spacingAndGlyphs"  stroke="#333" stroke-width="0.22">Name:</text>
<text x="476.5" y="770.7" font-family="Liberation Sans" font-size="8.6" font-weight="normal" fill="#333" text-anchor="start" textLength="49.5" lengthAdjust="spacingAndGlyphs"  stroke="#333" stroke-width="0.22">Description:</text>
<text x="359" y="780.9" font-family="Liberation Sans" font-size="6.6" font-weight="normal" fill="#333" text-anchor="middle"  stroke="#333" stroke-width="0.22">A</text>
<text x="405.5" y="780.9" font-family="Liberation Sans" font-size="6.6" font-weight="normal" fill="#333" text-anchor="middle" textLength="36.9" lengthAdjust="spacingAndGlyphs"  stroke="#333" stroke-width="0.22">02-10-2019</text>
<text x="456.7" y="780.9" font-family="Liberation Sans" font-size="6.6" font-weight="normal" fill="#333" text-anchor="middle" textLength="15" lengthAdjust="spacingAndGlyphs"  stroke="#333" stroke-width="0.22">MCH</text>
<text x="477.9" y="780.9" font-family="Liberation Sans" font-size="6.6" font-weight="normal" fill="#333" text-anchor="start" textLength="41.3" lengthAdjust="spacingAndGlyphs"  stroke="#333" stroke-width="0.22">Name added</text>
<text x="359" y="793" font-family="Liberation Sans" font-size="6.6" font-weight="normal" fill="#333" text-anchor="middle"  stroke="#333" stroke-width="0.22">B</text>
<text x="359" y="805.5" font-family="Liberation Sans" font-size="6.6" font-weight="normal" fill="#333" text-anchor="middle"  stroke="#333" stroke-width="0.22">C</text>
<text x="359" y="817.1" font-family="Liberation Sans" font-size="6.6" font-weight="normal" fill="#333" text-anchor="middle"  stroke="#333" stroke-width="0.22">D</text>
</svg>
</body></html>
